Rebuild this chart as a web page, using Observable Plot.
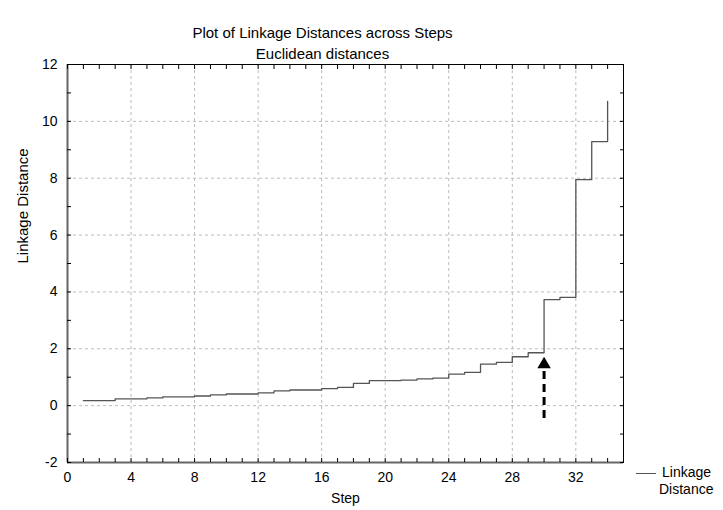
<!DOCTYPE html>
<html>
<head>
<meta charset="utf-8">
<script src="https://cdn.jsdelivr.net/npm/d3@7"></script>
<script src="https://cdn.jsdelivr.net/npm/@observablehq/plot@0.6"></script>
<style>
  body { margin: 0; background: #fff; font-family: "Liberation Sans", Arial, sans-serif; }
  #wrap { position: relative; width: 723px; height: 510px; }
  #legend { position: absolute; left: 636px; top: 464px; font-size: 14px; color: #000; line-height: 17px; }
  #legend .sw { display: inline-block; width: 20px; border-top: 1px solid #555; vertical-align: middle; margin-right: 6px; }
</style>
</head>
<body>
<div id="wrap">
  <div id="chart"></div>
  <div id="legend"><div><span class="sw"></span>Linkage</div><div style="padding-left:23px">Distance</div></div>
</div>
<script>
const title = "Plot of Linkage Distances across Steps";
const subtitle = "Euclidean distances";
const xLabel = "Step";
const yLabel = "Linkage Distance";
const steps = d3.range(1, 35);
const distances = [0.18, 0.18, 0.24, 0.24, 0.27, 0.31, 0.31, 0.34, 0.38, 0.41,
  0.41, 0.45, 0.52, 0.55, 0.55, 0.60, 0.64, 0.78, 0.88, 0.88,
  0.90, 0.94, 0.97, 1.11, 1.17, 1.46, 1.52, 1.72, 1.86, 3.73,
  3.81, 7.95, 9.29, 10.7];
const xTicks = [0, 4, 8, 12, 16, 20, 24, 28, 32];
const yTicks = [-2, 0, 2, 4, 6, 8, 10, 12];
const arrowStep = 30;
const arrowFrom = -0.45;
const arrowTo = 1.2;
const arrowHead = 1.45;

const data = steps.map((s, i) => ({step: s, dist: distances[i]}));
const font = "Liberation Sans, Arial, sans-serif";
const noLabel = () => "";
const plain = d => String(d);

const chart = Plot.plot({
  width: 723,
  height: 510,
  marginLeft: 67,
  marginRight: 100,
  marginTop: 64,
  marginBottom: 48,
  style: {fontFamily: font, fontSize: "14px", color: "#000", background: "#fff", overflow: "visible"},
  x: {domain: [0, 35]},
  y: {domain: [-2, 12]},
  marks: [
    Plot.gridX({ticks: xTicks.filter(d => d > 0), stroke: "#bbb", strokeOpacity: 1, strokeDasharray: "3,3"}),
    Plot.gridY({ticks: yTicks.filter(d => d > -2 && d < 12), stroke: "#bbb", strokeOpacity: 1, strokeDasharray: "3,3"}),
    Plot.frame({stroke: "#000"}),
    Plot.ruleX([0], {stroke: "#666", strokeWidth: 2}),
    Plot.ruleY([-2], {stroke: "#666", strokeWidth: 2}),
    Plot.axisX({anchor: "bottom", ticks: xTicks, tickSize: 0, tickPadding: 10, fontSize: 14, tickFormat: plain, label: null}),
    Plot.axisX({anchor: "bottom", ticks: d3.range(0, 36), tickSize: -4, tickFormat: noLabel, label: null}),
    Plot.axisX({anchor: "top", ticks: d3.range(0, 36), tickSize: -4, tickFormat: noLabel, label: null}),
    Plot.axisY({anchor: "left", ticks: yTicks, tickSize: 0, tickPadding: 10, fontSize: 14, tickFormat: plain, label: null}),
    Plot.axisY({anchor: "left", ticks: d3.range(-2, 13), tickSize: -4, tickFormat: noLabel, label: null}),
    Plot.axisY({anchor: "right", ticks: d3.range(-2, 13), tickSize: -4, tickFormat: noLabel, label: null}),
    Plot.line(data, {x: "step", y: "dist", curve: "step-after", stroke: "#555", strokeWidth: 1.3}),
    Plot.ruleX([arrowStep], {y1: arrowFrom, y2: arrowTo, stroke: "#000", strokeWidth: 3, strokeDasharray: "8,5"}),
    Plot.dot([arrowStep], {x: d => d, y: arrowHead, symbol: "triangle", r: 5, fill: "#000", stroke: "none"}),
    Plot.text([title], {frameAnchor: "top", dx: -23, dy: -37, fontSize: 15, fill: "#000"}),
    Plot.text([subtitle], {frameAnchor: "top", dx: -23, dy: -16, fontSize: 15, fill: "#000"}),
    Plot.text([xLabel], {frameAnchor: "bottom", dy: 40, fontSize: 14, fill: "#000"}),
    Plot.text([yLabel], {frameAnchor: "left", dx: -44, rotate: -90, fontSize: 15, fill: "#000"})
  ]
});
document.getElementById("chart").append(chart);
</script>
</body>
</html>
